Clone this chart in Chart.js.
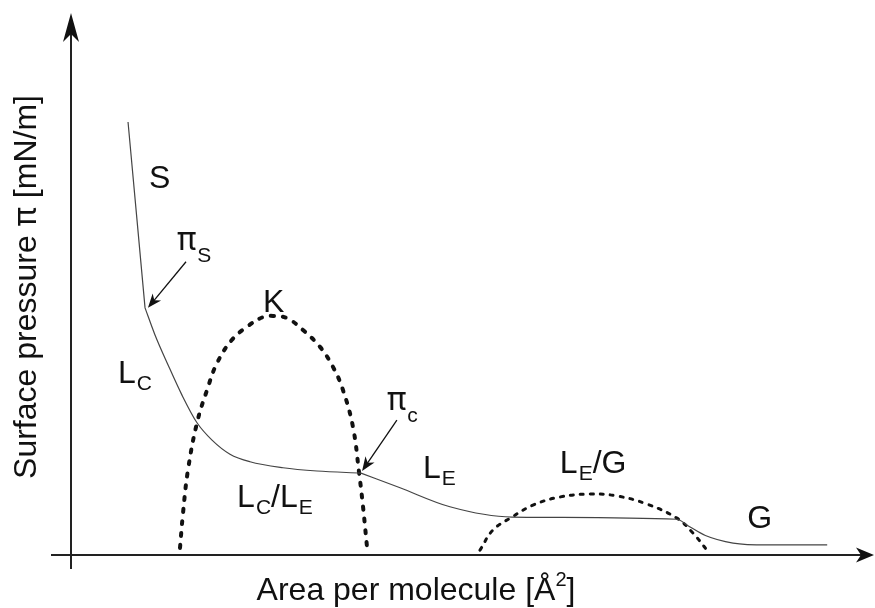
<!DOCTYPE html>
<html>
<head>
<meta charset="utf-8">
<script src="https://cdn.jsdelivr.net/npm/chart.js@4.4.1/dist/chart.umd.min.js"></script>
<style>
  html, body { margin: 0; padding: 0; background: #fff; }
  #wrap { width: 875px; height: 608px; }
</style>
</head>
<body>
<div id="wrap"><canvas id="c" width="875" height="608"></canvas></div>
<script>
// Schematic isotherm, arbitrary units (0..100 on both axes)
const isoArea = [7.21, 9.36, 10.62, 12.26, 14.03, 15.93, 17.83, 20.1, 22.63, 26.8, 31.1, 36.66, 41.6, 47.9, 55.75, 76.6, 78.0, 80.2, 83.7, 88.0, 95.6];
const isoPressure = [79.9, 45.6, 40.6, 35.1, 29.5, 24.4, 21.2, 18.6, 17.2, 16.1, 15.5, 15.1, 12.4, 8.9, 7.0, 6.6, 5.4, 3.6, 2.2, 1.85, 1.85];
// indices of the kinks (πS and πc) in the isotherm
const kinks = [1, 11];

// LC/LE coexistence dome (critical point K)
const lcleArea = [13.78, 14.16, 14.79, 15.93, 17.19, 18.46, 20.35, 22.25, 24.27, 25.54, 27.31, 29.33, 31.48, 33.12, 34.39, 35.65, 36.41, 36.92, 37.42];
const lclePressure = [1.3, 7.7, 15.7, 24.4, 30.4, 35.4, 39.7, 42.1, 43.9, 44.1, 43.7, 41.5, 38.4, 34.7, 30.4, 23.6, 15.3, 8.9, 1.5];

// LE/G coexistence dome
const legArea = [51.7, 53.35, 55.75, 58.4, 61.8, 65.6, 69.0, 72.8, 76.6, 78.6, 80.4];
const legPressure = [0.9, 4.6, 7.0, 9.2, 10.7, 11.25, 10.9, 9.4, 6.8, 4.1, 0.9];

// phase labels: [parts, area, pressure]  (parts: text, subscript)
const phaseLabels = [
  [[['S', '']], 9.86, 67.7],
  [[['π', 'S']], 13.4, 56.3],
  [[['K', '']], 24.27, 44.8],
  [[['L', 'C']], 5.94, 31.7],
  [[['π', 'c']], 39.95, 26.75],
  [[['L', 'E']], 44.5, 14.2],
  [[['L', 'C'], ['/L', 'E']], 21.0, 8.86],
  [[['L', 'E'], ['/G', '']], 61.8, 15.1],
  [[['G', '']], 85.5, 5.0]
];

// pointer arrows: [fromArea, fromPressure, toArea, toPressure]
const pointers = [
  [14.54, 54.1, 9.73, 45.6],
  [41.2, 24.9, 36.8, 15.5]
];

const xTitle = 'Area per molecule [Å';
const yTitleParts = ['Surface pressure ', 'π', ' [mN/m]'];

const FONT = '"Liberation Sans", Arial, sans-serif';
const PI_FONT = 'Inter, "DejaVu Sans", sans-serif';
const toPts = (xs, ys) => xs.map((x, i) => ({ x: x, y: ys[i] }));

// isotherm split at the kinks so they stay sharp
const isoPts = toPts(isoArea, isoPressure);
const isoPieces = [];
[0, ...kinks].forEach((start, i, arr) => {
  const end = i + 1 < arr.length ? arr[i + 1] : isoPts.length - 1;
  isoPieces.push(isoPts.slice(start, end + 1));
});

function arrowHead(ctx, tx, ty, ang, len, half, notch) {
  ctx.save();
  ctx.translate(tx, ty);
  ctx.rotate(ang);
  ctx.beginPath();
  ctx.moveTo(0, 0);
  ctx.lineTo(-len, -half);
  ctx.lineTo(-len + notch, 0);
  ctx.lineTo(-len, half);
  ctx.closePath();
  ctx.fill();
  ctx.restore();
}

function fontFor(txt, size) {
  return size + 'px ' + (txt === 'π' ? PI_FONT : FONT);
}

function drawParts(ctx, parts, x, y, size, subSize, subDrop) {
  let cx = x;
  parts.forEach(([main, sub]) => {
    ctx.font = fontFor(main, size);
    ctx.fillText(main, cx, y);
    cx += ctx.measureText(main).width;
    if (sub) {
      ctx.font = subSize + 'px ' + FONT;
      ctx.fillText(sub, cx + 1, y + subDrop);
      cx += ctx.measureText(sub).width + 1;
    }
  });
}

const overlay = {
  id: 'overlay',
  beforeDatasetsDraw(chart) {
    const ctx = chart.ctx;
    const xs = chart.scales.x, ys = chart.scales.y;
    const ox = xs.getPixelForValue(0), oy = ys.getPixelForValue(0);
    const area = chart.chartArea;
    ctx.save();
    ctx.strokeStyle = '#222';
    ctx.fillStyle = '#111';
    ctx.lineWidth = 2;
    // y axis
    ctx.beginPath();
    ctx.moveTo(ox, oy + 14);
    ctx.lineTo(ox, area.top + 20);
    ctx.stroke();
    arrowHead(ctx, ox, area.top, -Math.PI / 2, 29, 8, 8);
    // x axis
    ctx.beginPath();
    ctx.moveTo(ox - 20, oy);
    ctx.lineTo(area.right + 5, oy);
    ctx.stroke();
    arrowHead(ctx, area.right + 12, oy, 0, 18, 7.5, 5);
    ctx.restore();
  },
  afterDraw(chart) {
    const ctx = chart.ctx;
    const xs = chart.scales.x, ys = chart.scales.y;
    ctx.save();
    ctx.fillStyle = '#111';
    ctx.strokeStyle = '#111';
    ctx.textBaseline = 'alphabetic';
    ctx.textAlign = 'left';

    phaseLabels.forEach(([parts, a, p]) => {
      const isPi = parts[0][0] === 'π';
      drawParts(ctx, parts, xs.getPixelForValue(a), ys.getPixelForValue(p), 32, 21, isPi ? 12 : 7);
    });

    pointers.forEach(([a0, p0, a1, p1]) => {
      const x0 = xs.getPixelForValue(a0), y0 = ys.getPixelForValue(p0);
      const x1 = xs.getPixelForValue(a1), y1 = ys.getPixelForValue(p1);
      const ang = Math.atan2(y1 - y0, x1 - x0);
      ctx.lineWidth = 1.3;
      ctx.beginPath();
      ctx.moveTo(x0, y0);
      ctx.lineTo(x1 - Math.cos(ang) * 8, y1 - Math.sin(ang) * 8);
      ctx.stroke();
      arrowHead(ctx, x1, y1, ang, 14, 5.5, 4);
    });

    // x title with superscript
    ctx.font = '32px ' + FONT;
    const w1 = ctx.measureText(xTitle).width;
    ctx.font = '20px ' + FONT;
    const w2 = ctx.measureText('2').width;
    ctx.font = '32px ' + FONT;
    const w3 = ctx.measureText(']').width;
    let tx = 416 - (w1 + w2 + w3) / 2;
    ctx.fillText(xTitle, tx, 600);
    tx += w1;
    ctx.font = '20px ' + FONT;
    ctx.fillText('2', tx, 586);
    tx += w2;
    ctx.font = '32px ' + FONT;
    ctx.fillText(']', tx, 600);

    // y title
    ctx.save();
    ctx.translate(36, 287);
    ctx.rotate(-Math.PI / 2);
    const widths = yTitleParts.map(t => { ctx.font = fontFor(t, 32); return ctx.measureText(t).width; });
    let ty = -widths.reduce((s, w) => s + w, 0) / 2;
    yTitleParts.forEach((t, i) => {
      ctx.font = fontFor(t, 32);
      ctx.fillText(t, ty, 0);
      ty += widths[i];
    });
    ctx.restore();
    ctx.restore();
  }
};

const isoSets = isoPieces.map(pts => ({
  data: pts,
  showLine: true,
  borderColor: '#444',
  borderWidth: 1.2,
  pointRadius: 0,
  cubicInterpolationMode: 'monotone'
}));

new Chart(document.getElementById('c'), {
  type: 'scatter',
  data: {
    datasets: [
      ...isoSets,
      {
        data: toPts(lcleArea, lclePressure),
        showLine: true,
        borderColor: '#111',
        borderWidth: 4,
        borderDash: [3, 9],
        borderCapStyle: 'round',
        pointRadius: 0,
        tension: 0.4
      },
      {
        data: toPts(legArea, legPressure),
        showLine: true,
        borderColor: '#111',
        borderWidth: 3,
        borderDash: [3, 7],
        borderCapStyle: 'round',
        pointRadius: 0,
        tension: 0.4
      }
    ]
  },
  options: {
    responsive: false,
    animation: false,
    layout: { padding: { left: 71, right: 13, top: 13, bottom: 53 } },
    scales: {
      x: { type: 'linear', min: 0, max: 100, display: false },
      y: { type: 'linear', min: 0, max: 100, display: false }
    },
    plugins: {
      legend: { display: false },
      tooltip: { enabled: false }
    }
  },
  plugins: [overlay]
});
</script>
</body>
</html>
